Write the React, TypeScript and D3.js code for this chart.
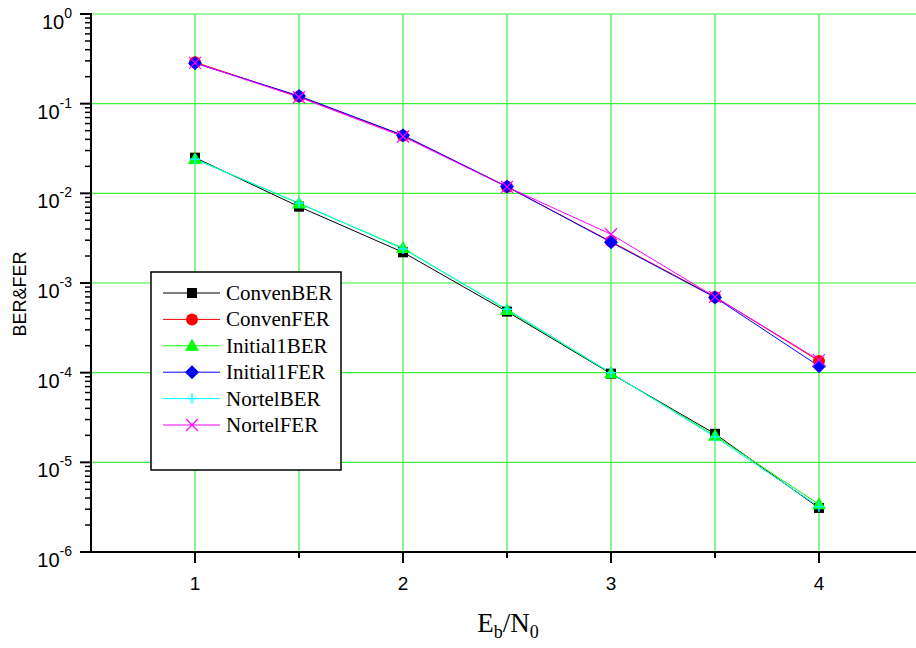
import React from "react";
import * as d3 from "d3";

const xValues = [1, 1.5, 2, 2.5, 3, 3.5, 4];
const convenBER = [0.025, 0.0071, 0.0022, 0.00048, 0.0000975, 0.0000208, 0.0000031];
const convenFER = [0.29, 0.12, 0.044, 0.0118, 0.0029, 0.0007, 0.000135];
const initial1BER = [0.0242, 0.0077, 0.00245, 0.0005, 0.0000985, 0.0000198, 0.0000034];
const initial1FER = [0.283, 0.122, 0.0445, 0.0119, 0.00285, 0.00069, 0.000118];
const nortelBER = [0.024, 0.0078, 0.0024, 0.00051, 0.0000995, 0.0000192, 0.0000032];
const nortelFER = [0.285, 0.118, 0.043, 0.0118, 0.0035, 0.0007, 0.000138];

const seriesNames = ["ConvenBER", "ConvenFER", "Initial1BER", "Initial1FER", "NortelBER", "NortelFER"];
const seriesColors = ["#000000", "#ff0000", "#00ff00", "#0000ff", "#00ffff", "#ff00ff"];
const seriesMarkers = ["square", "circle", "triangle", "diamond", "plus", "cross"];
const seriesData = [convenBER, convenFER, initial1BER, initial1FER, nortelBER, nortelFER];

const xMajorTicks = [1, 2, 3, 4];
const xMinorTicks = [1.5, 2.5, 3.5];
const yExponents = [0, -1, -2, -3, -4, -5, -6];

const W = 916;
const H = 648;
const left = 91;
const top = 14;
const bottom = 552;

function Marker({ type, x, y, color }: { type: string; x: number; y: number; color: string }) {
  switch (type) {
    case "square":
      return <rect x={x - 5} y={y - 5} width={10} height={10} fill={color} />;
    case "circle":
      return <circle cx={x} cy={y} r={6} fill={color} />;
    case "triangle":
      return <path d={`M${x},${y - 7}L${x + 7},${y + 5}L${x - 7},${y + 5}Z`} fill={color} />;
    case "diamond":
      return <path d={`M${x},${y - 7}L${x + 7},${y}L${x},${y + 7}L${x - 7},${y}Z`} fill={color} />;
    case "plus":
      return <path d={`M${x - 5},${y}H${x + 5}M${x},${y - 5}V${y + 5}`} stroke={color} strokeWidth={1.5} />;
    case "cross":
      return <path d={`M${x - 6},${y - 6}L${x + 6},${y + 6}M${x - 6},${y + 6}L${x + 6},${y - 6}`} stroke={color} strokeWidth={1.2} />;
    default:
      return null;
  }
}

export default function App() {
  const x = d3.scaleLinear().domain([0.5, 4.5]).range([left, left + 832]);
  const y = d3.scaleLog().domain([1, 1e-6]).range([top, bottom]);
  const line = d3
    .line<[number, number]>()
    .x((d) => x(d[0]))
    .y((d) => y(d[1]));

  const minorY: number[] = [];
  for (let e = -6; e < 0; e++) {
    for (let k = 2; k <= 9; k++) minorY.push(k * Math.pow(10, e));
  }

  const grid = "#3cf03c";
  const legX = 151;
  const legY = 272;
  const rowH = 26.4;

  return (
    <svg
      width={W}
      height={H}
      style={{ position: "absolute", left: 0, top: 0, background: "#fff" }}
      fontFamily="Liberation Sans, Arial, sans-serif"
    >
      <rect width={W} height={H} fill="#fff" />
      {/* grid */}
      {[...xMajorTicks, ...xMinorTicks].map((t) => (
        <line key={"gx" + t} x1={x(t)} x2={x(t)} y1={top} y2={bottom} stroke={grid} strokeWidth={1.2} />
      ))}
      {yExponents.slice(0, -1).map((e) => (
        <line key={"gy" + e} x1={left} x2={W} y1={y(Math.pow(10, e))} y2={y(Math.pow(10, e))} stroke={grid} strokeWidth={1.2} />
      ))}

      {/* series lines */}
      {seriesData.map((vals, i) => (
        <path
          key={"l" + i}
          d={line(xValues.map((v, j) => [v, vals[j]] as [number, number])) || ""}
          fill="none"
          stroke={seriesColors[i]}
          strokeWidth={1}
        />
      ))}
      {/* markers */}
      {seriesData.map((vals, i) =>
        xValues.map((v, j) => (
          <Marker key={"m" + i + "-" + j} type={seriesMarkers[i]} x={x(v)} y={y(vals[j])} color={seriesColors[i]} />
        ))
      )}

      {/* axes */}
      <line x1={left} x2={left} y1={top - 1} y2={bottom + 1} stroke="#000" strokeWidth={2} />
      <line x1={left - 1} x2={W} y1={bottom} y2={bottom} stroke="#000" strokeWidth={2} />
      {yExponents.map((e) => (
        <line key={"ty" + e} x1={left - 11} x2={left} y1={y(Math.pow(10, e))} y2={y(Math.pow(10, e))} stroke="#000" strokeWidth={2} />
      ))}
      {minorY.map((v) => (
        <line key={"tm" + v} x1={left - 6} x2={left} y1={y(v)} y2={y(v)} stroke="#000" strokeWidth={1.5} />
      ))}
      {xMajorTicks.map((t) => (
        <line key={"tx" + t} x1={x(t)} x2={x(t)} y1={bottom} y2={bottom + 11} stroke="#000" strokeWidth={2} />
      ))}
      {xMinorTicks.map((t) => (
        <line key={"txm" + t} x1={x(t)} x2={x(t)} y1={bottom} y2={bottom + 6} stroke="#000" strokeWidth={2} />
      ))}

      {/* tick labels */}
      {yExponents.map((e) => (
        <text key={"yl" + e} x={72} y={y(Math.pow(10, e)) + 15} textAnchor="end" fontSize={20} fill="#000">
          10
          <tspan fontSize={14} dy={-11}>
            {String(e)}
          </tspan>
        </text>
      ))}
      {xMajorTicks.map((t) => (
        <text key={"xl" + t} x={x(t)} y={590} textAnchor="middle" fontSize={19} fill="#000">
          {t}
        </text>
      ))}

      {/* axis titles */}
      <text transform="translate(26,294) rotate(-90)" textAnchor="middle" fontSize={18} fill="#000">
        BER&amp;FER
      </text>
      <text x={508} y={632} textAnchor="middle" fontSize={27} fontFamily="Liberation Serif, Times New Roman, serif" fill="#000">
        E<tspan fontSize={18} dy={6}>b</tspan>
        <tspan dy={-6}>/N</tspan>
        <tspan fontSize={18} dy={6}>0</tspan>
      </text>

      {/* legend */}
      <rect x={legX} y={legY} width={190} height={198} fill="#fff" stroke="#000" strokeWidth={1.5} />
      {seriesNames.map((name, i) => {
        const ry = legY + 21 + i * rowH;
        return (
          <g key={"lg" + i}>
            <line x1={163} x2={220} y1={ry} y2={ry} stroke={seriesColors[i]} strokeWidth={1} />
            <Marker type={seriesMarkers[i]} x={192} y={ry} color={seriesColors[i]} />
            <text x={226} y={ry + 7} fontSize={21} fontFamily="Liberation Serif, Times New Roman, serif" fill="#000">
              {name}
            </text>
          </g>
        );
      })}
    </svg>
  );
}
